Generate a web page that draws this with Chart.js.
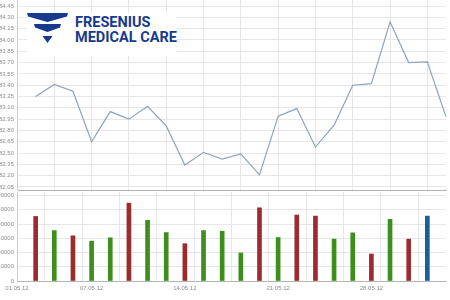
<!DOCTYPE html>
<html>
<head>
<meta charset="utf-8">
<script src="https://cdn.jsdelivr.net/npm/chart.js@4/dist/chart.umd.min.js"></script>
<style>
  html, body { margin: 0; padding: 0; background: #fff; }
  #wrap { position: relative; width: 450px; height: 300px; overflow: hidden; font-family: Roboto, "Liberation Sans", sans-serif; }
  #priceBox { position: absolute; left: 0; top: 0; width: 450px; height: 191px; }
  #volBox { position: absolute; left: 0; top: 191px; width: 450px; height: 109px; }
  #logo { position: absolute; left: 27px; top: 13px; width: 150px; height: 43px; background: #fff; }
  #logo svg { position: absolute; left: 0; top: 0; }
  .logo-txt { position: absolute; left: 48px; font-weight: 700; font-size: 14.5px; line-height: 1; color: #173a8e; white-space: nowrap; }
</style>
</head>
<body>
<div id="wrap">
  <div id="priceBox"><canvas id="priceChart"></canvas></div>
  <div id="volBox"><canvas id="volChart"></canvas></div>
  <div id="logo">
    <svg width="45" height="32" viewBox="0 0 45 32">
      <path d="M0,0 L41,0 L40,3.5 L20.5,9 L1,3.5 Z" fill="#173a8e"/>
      <path d="M7,11 L34,11 L33,14.5 L20.5,19 L8,14.5 Z" fill="#173a8e"/>
      <path d="M15.5,23 L25.5,23 L20.5,30 Z" fill="#173a8e"/>
    </svg>
    <div class="logo-txt" style="top:3px">FRESENIUS</div>
    <div class="logo-txt" style="top:18px">MEDICAL CARE</div>
  </div>
</div>
<script>
// Trading days (x categories); the axis starts one day earlier
const axisStart = '01.05.12';
const days = ['02.05.12', '03.05.12', '04.05.12', '07.05.12', '08.05.12', '09.05.12', '10.05.12',
  '11.05.12', '14.05.12', '15.05.12', '16.05.12', '17.05.12', '18.05.12', '21.05.12', '22.05.12',
  '23.05.12', '24.05.12', '25.05.12', '28.05.12', '29.05.12', '30.05.12', '31.05.12', '01.06.12'];

// Closing price
const price = [83.25, 83.41, 83.32, 82.65, 83.05, 82.95, 83.12, 82.86, 82.34, 82.51, 82.42, 82.49,
  82.21, 82.99, 83.09, 82.58, 82.87, 83.40, 83.42, 84.24, 83.70, 83.71, 82.98];

// Volume and its direction (d = down, u = up, n = current)
const volume = [680000, 531000, 476000, 420000, 455000, 820000, 639000, 510000, 393000, 531000,
  524000, 295000, 771000, 458000, 695000, 684000, 441000, 507000, 284000, 649000, 441000, 684000, null];
const trend = ['d', 'u', 'd', 'u', 'u', 'd', 'u', 'u', 'd', 'u', 'u', 'u', 'd', 'u', 'd', 'd',
  'u', 'u', 'd', 'u', 'd', 'n', null];

// Tick labels
const xTickLabels = ['01.05.12', '07.05.12', '14.05.12', '21.05.12', '28.05.12'];
const priceTicks = [82.05, 82.20, 82.35, 82.50, 82.65, 82.80, 82.95, 83.10, 83.25, 83.40,
  83.55, 83.70, 83.85, 84.00, 84.15, 84.30, 84.45];
const volTicks = [0, 150000, 300000, 450000, 600000, 750000, 900000];

const labels = [axisStart, ...days];
const trendColors = { d: '#9c2b2e', u: '#3d8e1c', n: '#1f5c9c' };

const gridCol = '#e6e6e6';
const tickFont = { family: '"Liberation Sans", Arial, sans-serif', size: 6 };
const tickCol = '#8c8c8c';

function xGrid(ctx) {
  return ctx.index > 0 && ctx.index % 2 === 0 ? gridCol : 'transparent';
}

// y axis: fixed width, no extra padding for the end labels
function fitY(s) {
  s.width = 17;
  s.paddingTop = 0;
  s.paddingBottom = 0;
}

new Chart(document.getElementById('priceChart'), {
  type: 'line',
  data: {
    labels: labels,
    datasets: [{
      data: [null, ...price],
      borderColor: '#8da2be',
      borderWidth: 1.2,
      pointRadius: 0,
      tension: 0
    }]
  },
  options: {
    animation: false,
    responsive: true,
    maintainAspectRatio: false,
    layout: { padding: { top: 0, right: 4, bottom: 0, left: 0 } },
    plugins: { legend: { display: false }, tooltip: { enabled: false } },
    scales: {
      x: {
        offset: false,
        grid: { color: xGrid, drawTicks: false },
        border: { color: '#b4b4b4', width: 1 },
        ticks: { display: false },
        afterFit: s => { s.height = 1; }
      },
      y: {
        min: 82.01,
        max: 84.53,
        afterBuildTicks: s => { s.ticks = priceTicks.map(v => ({ value: v })); },
        afterFit: fitY,
        grid: { color: gridCol, drawTicks: false },
        border: { color: '#cfcfcf' },
        ticks: {
          font: tickFont, color: tickCol, padding: 3,
          callback: v => v.toFixed(2)
        }
      }
    }
  }
});

new Chart(document.getElementById('volChart'), {
  type: 'bar',
  data: {
    labels: labels,
    datasets: [{
      data: [null, ...volume],
      backgroundColor: [null, ...trend].map(t => t ? trendColors[t] : 'transparent'),
      barThickness: 4
    }]
  },
  options: {
    animation: false,
    responsive: true,
    maintainAspectRatio: false,
    layout: { padding: { top: 1, right: 4, bottom: 0, left: 0 } },
    plugins: { legend: { display: false }, tooltip: { enabled: false } },
    scales: {
      x: {
        offset: false,
        grid: { color: xGrid, drawTicks: false },
        border: { color: '#b4b4b4' },
        afterFit: s => { s.height = 19; },
        ticks: {
          font: tickFont, color: tickCol, padding: 4,
          autoSkip: false, maxRotation: 0,
          callback: function (v) {
            const lab = this.getLabelForValue(v);
            return xTickLabels.includes(lab) ? lab : '';
          }
        }
      },
      y: {
        min: 0,
        max: 937500,
        afterBuildTicks: s => { s.ticks = volTicks.map(v => ({ value: v })); },
        afterFit: fitY,
        grid: { color: gridCol, drawTicks: false },
        border: { color: '#cfcfcf' },
        ticks: { font: tickFont, color: tickCol, padding: 3, callback: v => String(v) }
      }
    }
  }
});
</script>
</body>
</html>
